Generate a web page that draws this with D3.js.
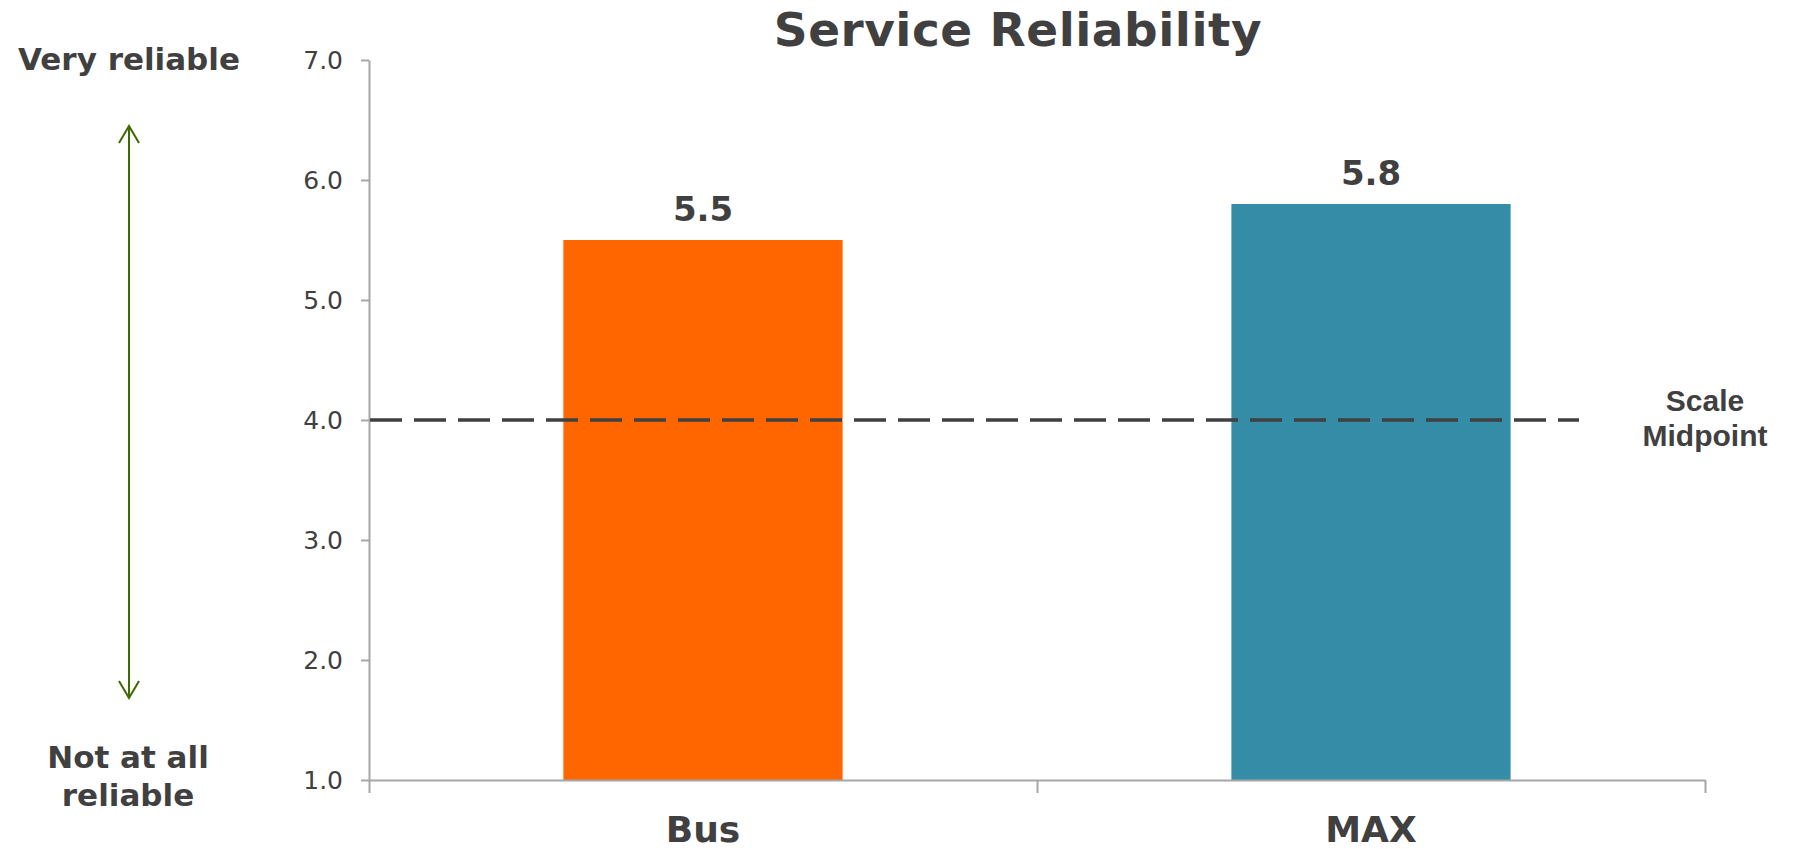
<!DOCTYPE html>
<html>
<head>
<meta charset="utf-8">
<script src="https://cdn.jsdelivr.net/npm/d3@7"></script>
<style>
    body { margin: 0; background: #fff; }
    .canvas { width: 1794px; height: 849px; }
    text { fill: #404040; }
</style>
</head>
<body>
<div class="canvas"></div>
<script>
//Data
const categories = ['Bus', 'MAX'];
const values = [5.5, 5.8];
const barColors = ['#ff6600', '#358ca6'];
const yTicks = [1, 2, 3, 4, 5, 6, 7];
const midpoint = 4.0;
const title = 'Service Reliability';
const topLabel = ['Very reliable'];
const bottomLabel = ['Not at all', 'reliable'];
const midLabel = ['Scale', 'Midpoint'];

//Canvas parameters
const
    width = 1794,
    height = 849,
    plotL = 369,
    plotR = 1705,
    plotT = 60,
    plotB = 780;

const svg = d3.select('.canvas')
    .append('svg')
    .attr('width', width)
    .attr('height', height);

const xScale = d3.scaleBand()
    .domain(categories)
    .range([plotL, plotR])
    .paddingInner(0)
    .paddingOuter(0);

const yScale = d3.scaleLinear()
    .domain([1, 7])
    .range([plotB, plotT]);

const barW = xScale.bandwidth() * 0.418;

//Title
svg.append('text')
    .attr('x', 1018)
    .attr('y', 46)
    .attr('text-anchor', 'middle')
    .style('font', 'bold 47px "DejaVu Sans"')
    .style('letter-spacing', '0.5px')
    .text(title);

//Bars
svg.selectAll('rect.bar')
    .data(values)
    .enter()
    .append('rect')
    .attr('class', 'bar')
    .attr('x', (d, i) => xScale(categories[i]) + xScale.bandwidth() / 2 - barW / 2)
    .attr('width', barW)
    .attr('y', d => yScale(d))
    .attr('height', d => yScale(1) - yScale(d))
    .attr('fill', (d, i) => barColors[i]);

//Value labels
svg.selectAll('text.val')
    .data(values)
    .enter()
    .append('text')
    .attr('class', 'val')
    .attr('x', (d, i) => xScale(categories[i]) + xScale.bandwidth() / 2)
    .attr('y', d => yScale(d) - 19)
    .attr('text-anchor', 'middle')
    .style('font', 'bold 34px "DejaVu Sans"')
    .text(d => d3.format('.1f')(d));

//Y-Axis
const yAxis = d3.axisLeft(yScale)
    .tickValues(yTicks)
    .tickFormat(d3.format('.1f'))
    .tickSize(8)
    .tickSizeOuter(0)
    .tickPadding(18);
const gy = svg.append('g')
    .attr('transform', `translate(${plotL}, 0)`)
    .call(yAxis);
gy.selectAll('path, line').attr('stroke', '#a6a6a6').attr('stroke-width', 2);
gy.selectAll('text')
    .style('font', '25px "DejaVu Sans"')
    .attr('fill', '#404040');

//X-Axis (boundary ticks)
const xEdge = d3.scaleLinear().domain([0, categories.length]).range([plotL, plotR]);
const gx = svg.append('g')
    .attr('transform', `translate(0, ${plotB})`)
    .call(d3.axisBottom(xEdge).ticks(categories.length).tickSize(13).tickSizeOuter(0).tickFormat(''));
gx.selectAll('path, line').attr('stroke', '#a6a6a6').attr('stroke-width', 2);

svg.selectAll('text.cat')
    .data(categories)
    .enter()
    .append('text')
    .attr('class', 'cat')
    .attr('x', d => xScale(d) + xScale.bandwidth() / 2)
    .attr('y', 842)
    .attr('text-anchor', 'middle')
    .style('font', 'bold 36px "DejaVu Sans"')
    .text(d => d);

//Midpoint line
svg.append('line')
    .attr('x1', plotL + 1)
    .attr('x2', 1579)
    .attr('y1', yScale(midpoint))
    .attr('y2', yScale(midpoint))
    .attr('stroke', '#404040')
    .attr('stroke-width', 3.5)
    .attr('stroke-dasharray', '32 12');

svg.append('text')
    .attr('x', 1705)
    .attr('y', 411)
    .attr('text-anchor', 'middle')
    .style('font', 'bold 30px "Liberation Sans"')
    .selectAll('tspan')
    .data(midLabel)
    .enter()
    .append('tspan')
    .attr('x', 1705)
    .attr('dy', (d, i) => i === 0 ? 0 : 35)
    .text(d => d);

//Left scale labels
svg.append('text')
    .attr('x', 129)
    .attr('y', 70)
    .attr('text-anchor', 'middle')
    .style('font', 'bold 31px "DejaVu Sans"')
    .text(topLabel[0]);

svg.append('text')
    .attr('text-anchor', 'middle')
    .style('font', 'bold 31px "DejaVu Sans"')
    .selectAll('tspan')
    .data(bottomLabel)
    .enter()
    .append('tspan')
    .attr('x', 128)
    .attr('y', (d, i) => 768 + i * 38)
    .text(d => d);

//Arrow
const green = '#3f6a00';
svg.append('line')
    .attr('x1', 129).attr('x2', 129)
    .attr('y1', 126).attr('y2', 698)
    .attr('stroke', green)
    .attr('stroke-width', 2);
svg.append('path')
    .attr('d', 'M119,143L129,126L139,143')
    .attr('fill', 'none')
    .attr('stroke', green)
    .attr('stroke-width', 2);
svg.append('path')
    .attr('d', 'M119,681L129,698L139,681')
    .attr('fill', 'none')
    .attr('stroke', green)
    .attr('stroke-width', 2);
</script>
</body>
</html>
